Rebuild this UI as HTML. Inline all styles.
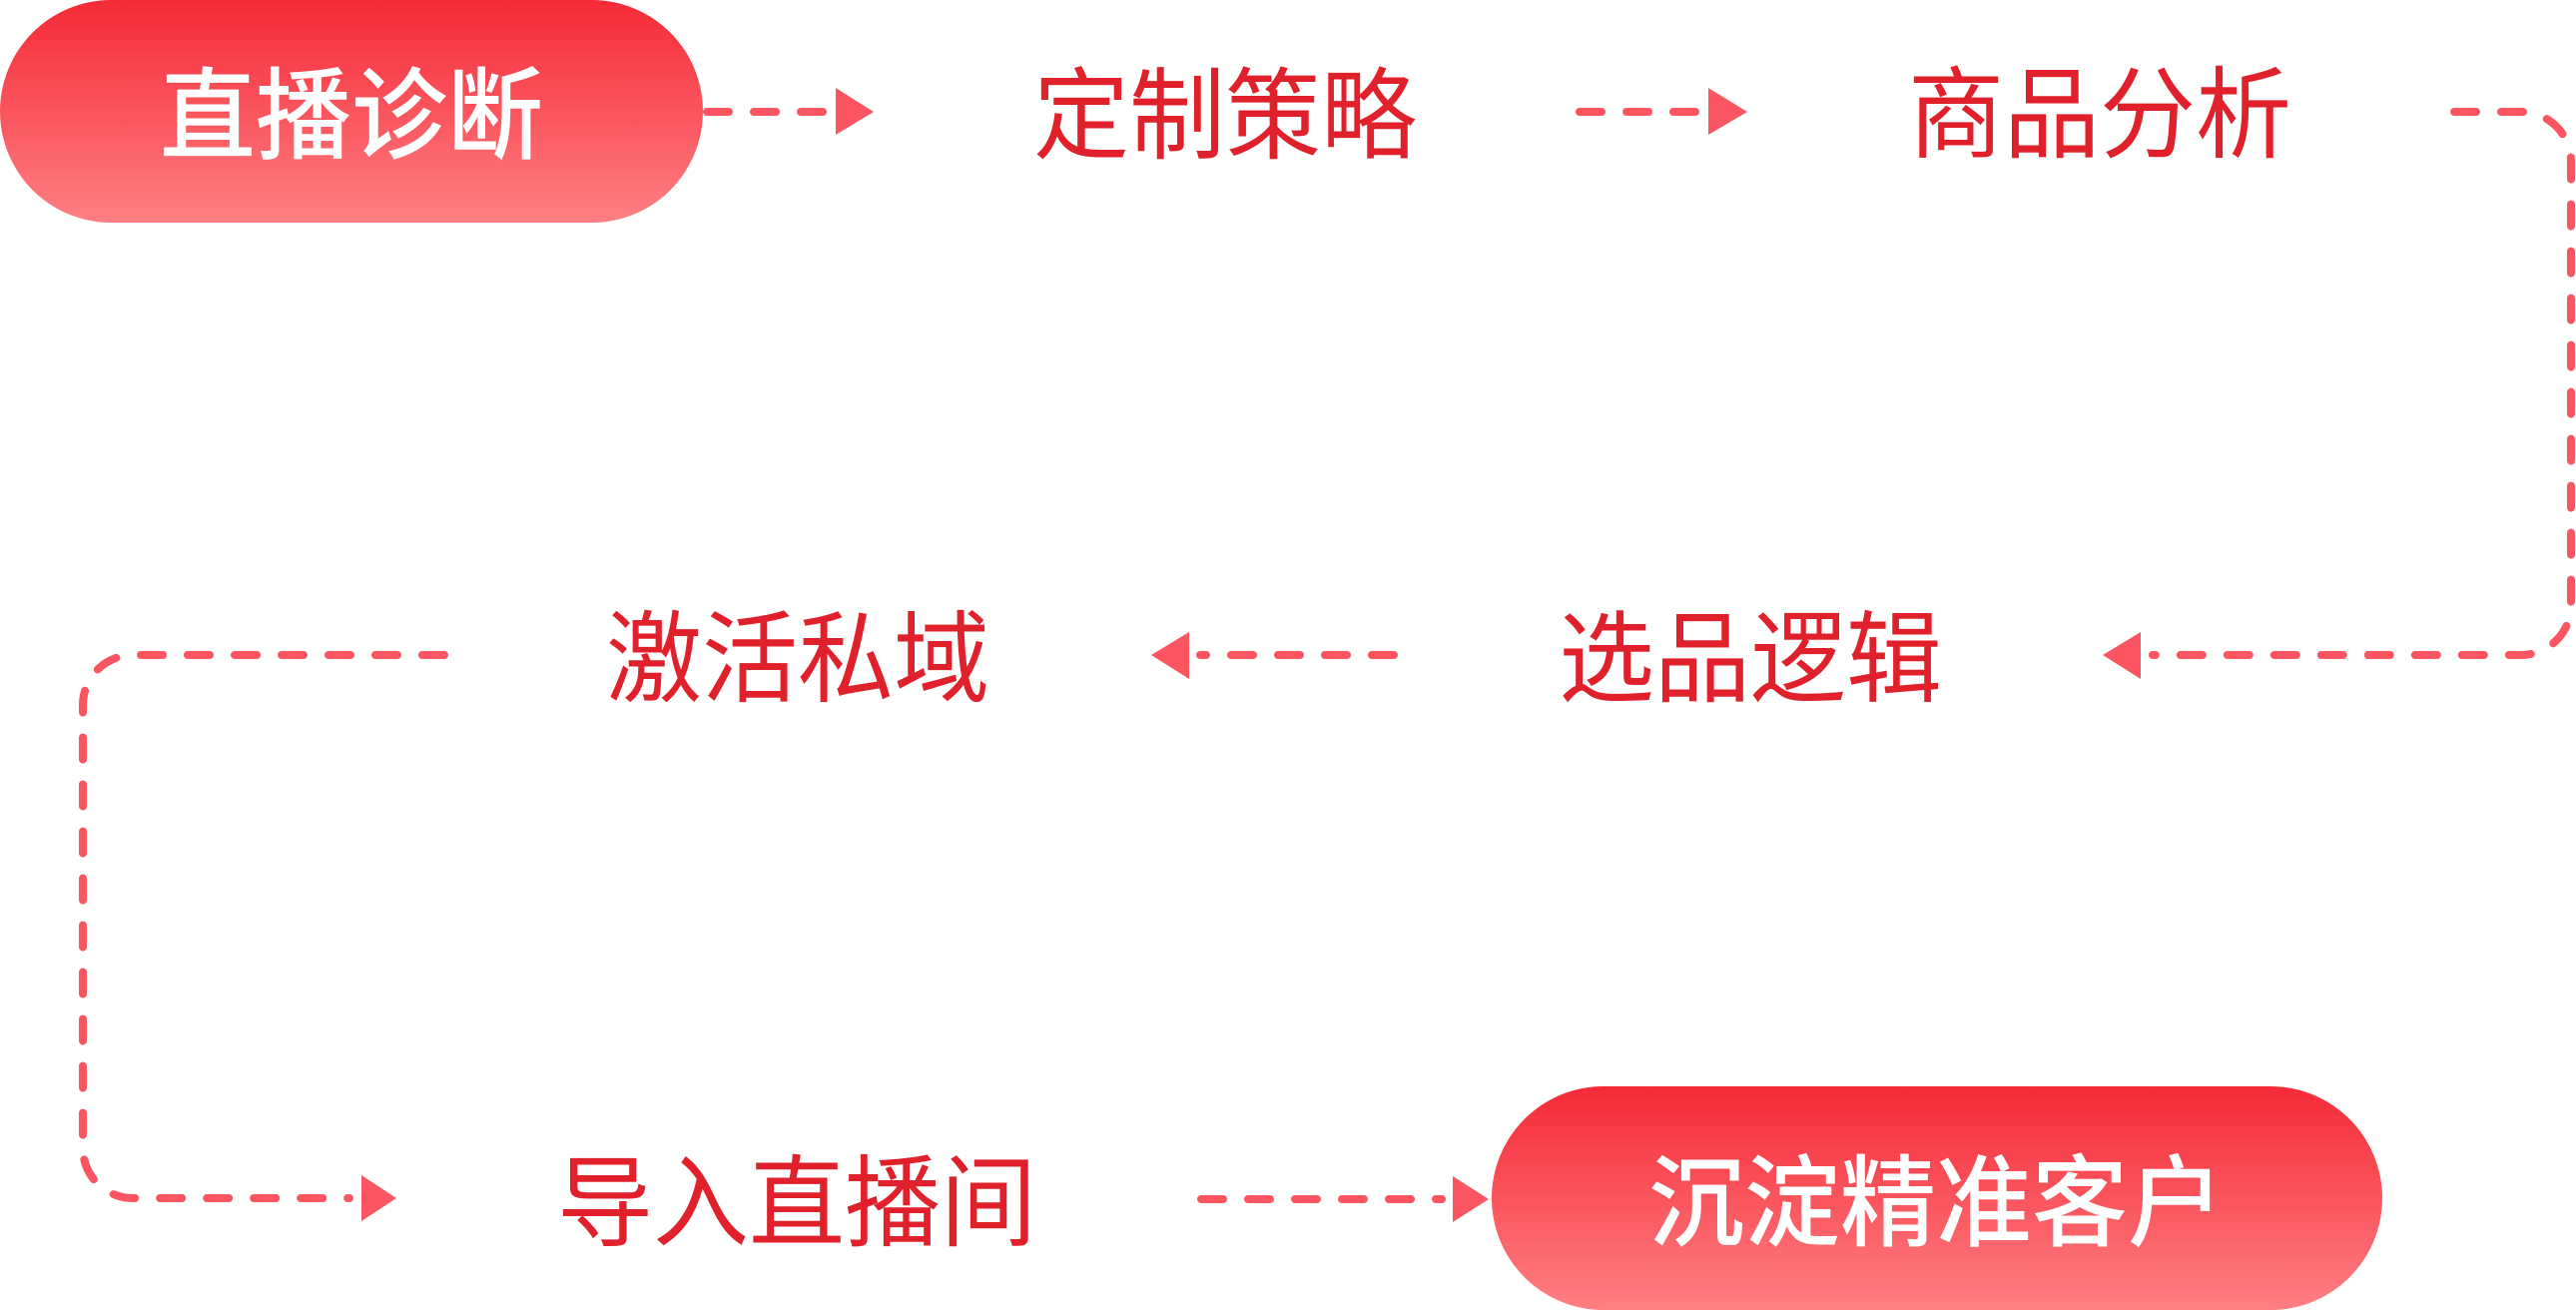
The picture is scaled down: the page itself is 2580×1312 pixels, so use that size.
<!DOCTYPE html>
<html>
<head>
<meta charset="utf-8">
<style>
  html,body{margin:0;padding:0;background:#fff;}
  body{width:2580px;height:1312px;overflow:hidden;}
  svg{display:block;}
  .t{font-family:"Liberation Sans","Noto Sans CJK SC","WenQuanYi Zen Hei",sans-serif;font-size:100px;text-anchor:middle;}
  .red{fill:#e0202b;font-weight:400;}
  .wht{fill:#ffffff;font-weight:500;}
  .ln{fill:none;stroke:#fa5560;stroke-width:8;stroke-dasharray:22 25;stroke-linecap:round;stroke-linejoin:round;}
  .hd{fill:#fa5560;}
</style>
</head>
<body>
<svg width="2580" height="1312" viewBox="0 0 2580 1312" xmlns="http://www.w3.org/2000/svg">
  <defs>
    <linearGradient id="g" x1="0" y1="0" x2="0" y2="1">
      <stop offset="0" stop-color="#f52a37"/>
      <stop offset="1" stop-color="#ff7f83"/>
    </linearGradient>
  </defs>

  <!-- Pill 1 -->
  <rect x="0" y="0" width="704" height="223" rx="111.5" ry="111.5" fill="url(#g)"/>
  <text class="t wht" x="352" y="151" textLength="384" lengthAdjust="spacingAndGlyphs">直播诊断</text>

  <!-- Connector 1 -->
  <path class="ln" d="M708,112 H828"/>
  <polygon class="hd" points="837,88 875,112 837,135"/>

  <text class="t red" x="1227" y="151" textLength="384" lengthAdjust="spacingAndGlyphs">定制策略</text>

  <!-- Connector 2 -->
  <path class="ln" d="M1582,112 H1702"/>
  <polygon class="hd" points="1711,88 1750,112 1711,135"/>

  <text class="t red" x="2103" y="150" textLength="384" lengthAdjust="spacingAndGlyphs">商品分析</text>

  <!-- Right loop -->
  <path class="ln" d="M2458,112 H2525 A50,50 0 0 1 2575,162 V606 A50,50 0 0 1 2525,656 H2156"/>
  <polygon class="hd" points="2144,633 2106,656 2144,680"/>

  <text class="t red" x="1753" y="695" textLength="384" lengthAdjust="spacingAndGlyphs">选品逻辑</text>

  <!-- Connector 4 (leftward) -->
  <path class="ln" d="M1396,656 H1202"/>
  <polygon class="hd" points="1191,633 1153,656 1191,680"/>

  <text class="t red" x="799" y="695" textLength="384" lengthAdjust="spacingAndGlyphs">激活私域</text>

  <!-- Left loop -->
  <path class="ln" d="M445,656 H133 A50,50 0 0 0 83,706 V1150 A50,50 0 0 0 133,1200 H350"/>
  <polygon class="hd" points="362,1177 397,1200 362,1223"/>

  <text class="t red" x="798" y="1240" textLength="480" lengthAdjust="spacingAndGlyphs">导入直播间</text>

  <!-- Connector 6 -->
  <path class="ln" d="M1203,1201 H1444"/>
  <polygon class="hd" points="1455,1178 1491,1201 1455,1224"/>

  <!-- Pill 2 -->
  <rect x="1494" y="1088" width="892" height="224" rx="112" ry="112" fill="url(#g)"/>
  <text class="t wht" x="1939" y="1240" textLength="576" lengthAdjust="spacingAndGlyphs">沉淀精准客户</text>
</svg>
</body>
</html>
